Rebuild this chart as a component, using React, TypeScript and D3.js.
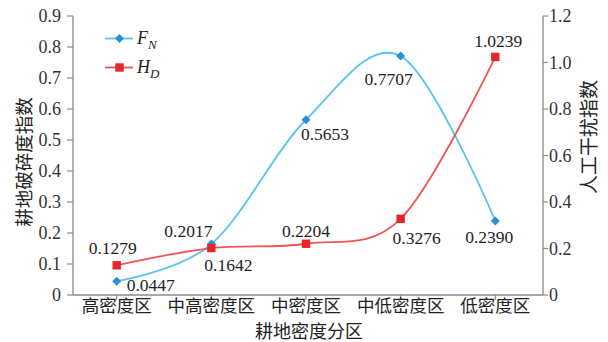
import React from 'react';
import * as d3 from 'd3';

const categories = ['高密度区', '中高密度区', '中密度区', '中低密度区', '低密度区'];
const fnValues = [0.0447, 0.1642, 0.5653, 0.7707, 0.239];
const hdValues = [0.1279, 0.2017, 0.2204, 0.3276, 1.0239];
const fnLabels = ['0.0447', '0.1642', '0.5653', '0.7707', '0.2390'];
const hdLabels = ['0.1279', '0.2017', '0.2204', '0.3276', '1.0239'];
const leftTicks = [0, 0.1, 0.2, 0.3, 0.4, 0.5, 0.6, 0.7, 0.8, 0.9];
const rightTicks = [0, 0.2, 0.4, 0.6, 0.8, 1.0, 1.2];

// label placement (dx from point to text centre, dy to baseline)
const fnLabelOffsets = [[34, 10], [17, 26.5], [19, 20], [-12, 29], [-6, 22]];
const hdLabelOffsets = [[-4, -11], [-23, -11.5], [0, -7], [16, 25], [3, -10]];

const W = 608, H = 342;
const plot = { left: 73, right: 543, top: 16, bottom: 295 };
const BLUE_LINE = '#5cc3ec';
const BLUE_MARK = '#2a8fd4';
const RED_LINE = '#f05555';
const RED_MARK = '#e6262b';
const AXIS = '#8a8a8a';
const SERIF = "'Times New Roman', Times, Tinos, 'Liberation Serif', 'DejaVu Serif', 'Noto Serif', serif";
const CJK = "'Noto Sans CJK SC', 'Noto Sans', sans-serif";

const serif = { fontFamily: SERIF };
const cjk = { fontFamily: CJK };

export default function App() {
  const x = d3.scalePoint<string>().domain(categories).range([116.7, 495.3]);
  const yL = d3.scaleLinear().domain([0, 0.9]).range([plot.bottom, plot.top]);
  const yR = d3.scaleLinear().domain([0, 1.2]).range([plot.bottom, plot.top]);
  const fmt = (v: number) => (v === 0 ? '0' : v.toFixed(1));

  const fnPts: [number, number][] = fnValues.map((v, i) => [x(categories[i])!, yL(v)]);
  const hdPts: [number, number][] = hdValues.map((v, i) => [x(categories[i])!, yR(v)]);
  const line = d3.line().curve(d3.curveCardinal.tension(0));

  const diamond = (cx: number, cy: number, r: number) =>
    `M${cx},${cy - r}L${cx + r},${cy}L${cx},${cy + r}L${cx - r},${cy}Z`;

  return (
    <svg width={W} height={H} style={{ position: 'absolute', left: 0, top: 0, background: '#fff' }}>
      <rect x={0} y={0} width={W} height={H} fill="#fff" />
      {/* axes */}
      <line x1={plot.left} x2={plot.left} y1={plot.top} y2={plot.bottom} stroke={AXIS} strokeWidth={1.3} />
      <line x1={plot.right} x2={plot.right} y1={plot.top} y2={plot.bottom} stroke={AXIS} strokeWidth={1.3} />
      <line x1={plot.left} x2={plot.right} y1={plot.bottom} y2={plot.bottom} stroke={AXIS} strokeWidth={1.3} />
      {leftTicks.map((t) => (
        <g key={'l' + t}>
          <line x1={plot.left - 6} x2={plot.left} y1={yL(t)} y2={yL(t)} stroke={AXIS} strokeWidth={1.2} />
          <text x={plot.left - 12} y={yL(t)} dy="0.35em" textAnchor="end" style={serif} fontSize={18} fill="#333">
            {fmt(t)}
          </text>
        </g>
      ))}
      {rightTicks.map((t) => (
        <g key={'r' + t}>
          <line x1={plot.right} x2={plot.right + 5} y1={yR(t)} y2={yR(t)} stroke={AXIS} strokeWidth={1.2} />
          <text x={plot.right + 6} y={yR(t)} dy="0.35em" textAnchor="start" style={serif} fontSize={18} fill="#333">
            {fmt(t)}
          </text>
        </g>
      ))}
      {categories.map((c) => (
        <g key={c}>
          <line x1={x(c)} x2={x(c)} y1={plot.bottom} y2={plot.bottom + 5} stroke={AXIS} strokeWidth={1.2} />
          <text x={x(c)} y={304} dominantBaseline="central" textAnchor="middle" style={cjk} fontSize={17.5} fill="#222">
            {c}
          </text>
        </g>
      ))}
      <text x={309} y={329.5} dominantBaseline="central" textAnchor="middle" style={cjk} fontSize={18} fill="#222">
        耕地密度分区
      </text>
      <text transform="translate(22.5,162) rotate(-90)" dominantBaseline="central" textAnchor="middle" style={cjk} fontSize={18.5} fill="#222">
        耕地破碎度指数
      </text>
      <text transform="translate(587,137) rotate(-90)" dominantBaseline="central" textAnchor="middle" style={cjk} fontSize={19} fill="#222">
        人工干扰指数
      </text>

      {/* series */}
      <path d={line(fnPts)!} fill="none" stroke={BLUE_LINE} strokeWidth={1.8} />
      <path d={line(hdPts)!} fill="none" stroke={RED_LINE} strokeWidth={1.8} />
      {fnPts.map(([px, py], i) => (
        <path key={'fd' + i} d={diamond(px, py, 4.5)} fill={BLUE_MARK} />
      ))}
      {hdPts.map(([px, py], i) => (
        <rect key={'hs' + i} x={px - 4.2} y={py - 4.2} width={8.4} height={8.4} fill={RED_MARK} />
      ))}
      {fnPts.map(([px, py], i) => (
        <text key={'fl' + i} x={px + fnLabelOffsets[i][0]} y={py + fnLabelOffsets[i][1]} textAnchor="middle" style={serif} fontSize={17.5} fill="#222">
          {fnLabels[i]}
        </text>
      ))}
      {hdPts.map(([px, py], i) => (
        <text key={'hl' + i} x={px + hdLabelOffsets[i][0]} y={py + hdLabelOffsets[i][1]} textAnchor="middle" style={serif} fontSize={17.5} fill="#222">
          {hdLabels[i]}
        </text>
      ))}

      {/* legend */}
      <line x1={105} x2={133} y1={38.5} y2={38.5} stroke={BLUE_LINE} strokeWidth={1.8} />
      <path d={diamond(119.5, 38.5, 4.5)} fill={BLUE_MARK} />
      <text x={137} y={44} style={serif} fontStyle="italic" fontSize={18} fill="#222">
        F<tspan dy={5} fontSize={13}>N</tspan>
      </text>
      <line x1={105} x2={133} y1={67.5} y2={67.5} stroke={RED_LINE} strokeWidth={1.8} />
      <rect x={115.3} y={63.3} width={8.4} height={8.4} fill={RED_MARK} />
      <text x={137} y={73} style={serif} fontStyle="italic" fontSize={18} fill="#222">
        H<tspan dy={5} fontSize={13}>D</tspan>
      </text>
    </svg>
  );
}
